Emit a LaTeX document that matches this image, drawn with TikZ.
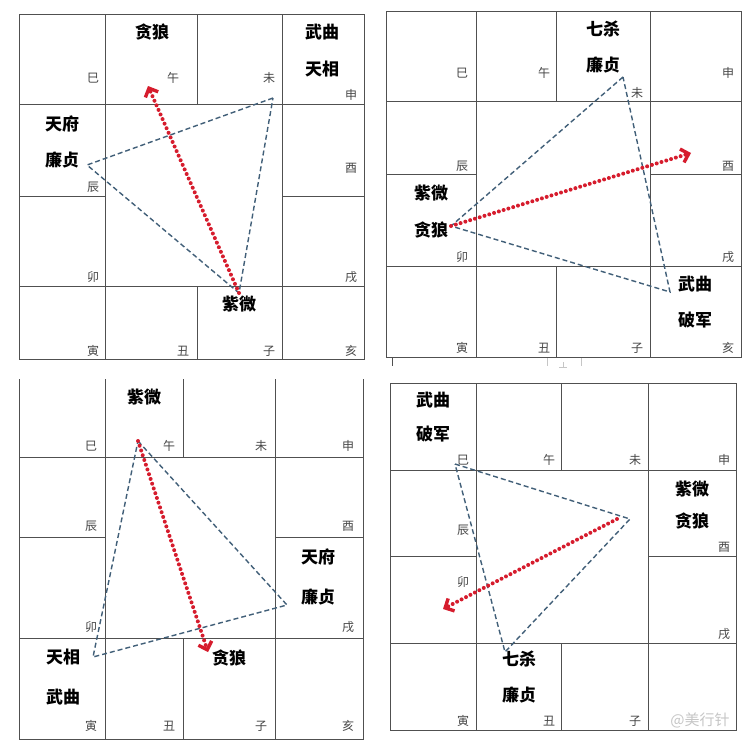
\documentclass[tikz,border=0pt]{standalone}
\usepackage{fontspec}
\newfontfamily\cjk{Noto Sans CJK SC}
\usetikzlibrary{arrows.meta}
\definecolor{gridc}{RGB}{80,80,80}
\definecolor{tric}{RGB}{65,95,120}
\definecolor{arrc}{RGB}{214,28,45}
\definecolor{brc}{RGB}{70,70,70}
\tikzset{
  gridline/.style={draw=gridc, line width=1pt},
  tri/.style={draw=tric, line width=1.4pt, dash pattern=on 5pt off 3pt},
  flow/.style={draw=arrc, line width=4pt, line cap=round, dash pattern=on 0pt off 5pt,
    -{Straight Barb[length=7pt,width=14pt,line width=3.4pt,line cap=butt]}},
  star/.style={font=\cjk\bfseries\fontsize{17}{17}\selectfont, text=black, inner sep=0pt},
  br/.style={font=\cjk\fontsize{12}{12}\selectfont, text=brc, inner sep=0pt},
  wm/.style={font=\cjk\fontsize{15}{15}\selectfont, text=gray!45, inner sep=0pt}
}
\begin{document}
\begin{tikzpicture}[x=1pt,y=-1pt]
\useasboundingbox (0,0) rectangle (754,745);
\fill[white] (0,0) rectangle (754,745);
% ---------- chart 1 ----------
\draw[gridline] (19,14) rectangle (364,359);
\draw[gridline] (19,104) -- (364,104) (19,286) -- (364,286)
  (105,14) -- (105,359) (282,14) -- (282,359)
  (19,196) -- (105,196) (282,196) -- (364,196)
  (197,14) -- (197,104) (197,286) -- (197,359);
\node[star] (a1) at (152,32) {贪狼};
\node[star] (a2) at (322,32) {武曲};
\node[star] (a3) at (322,69) {天相};
\node[star] (a4) at (62,124) {天府};
\node[star] (a5) at (62,160) {廉贞};
\node[star] (a6) at (239,304) {紫微};
\node[br] (ab1) at (93,78) {巳};
\node[br] (ab2) at (173,78) {午};
\node[br] (ab3) at (269,78) {未};
\node[br] (ab4) at (351,95) {申};
\node[br] (ab5) at (93,187) {辰};
\node[br] (ab6) at (351,168) {酉};
\node[br] (ab7) at (93,277) {卯};
\node[br] (ab8) at (351,277) {戌};
\node[br] (ab9) at (93,351) {寅};
\node[br] (ab10) at (183,351) {丑};
\node[br] (ab11) at (269,351) {子};
\node[br] (ab12) at (351,351) {亥};
\coordinate (at1) at (273,98);
\coordinate (at2) at (87,165);
\coordinate (at3) at (239,293);
\coordinate (aarr) at (148,86);
\draw[tri] (at1) -- (at2) -- (at3) -- cycle;
\draw[flow] (at3) -- (aarr);
% ---------- chart 2 ----------
\draw[gridline] (386,11) rectangle (741,357);
\draw[gridline] (386,101) -- (741,101) (386,266) -- (741,266)
  (476,11) -- (476,357) (650,11) -- (650,357)
  (386,174) -- (476,174) (650,174) -- (741,174)
  (556,11) -- (556,101) (556,266) -- (556,357);
\draw[gridc, line width=0.8pt] (392,358) -- (392,366);
\draw[gray!45, line width=0.7pt] (547,358) -- (547,366) (581,358) -- (581,366)
  (563,362) -- (563,367) (559,367) -- (567,367);
\node[star] (b1) at (603,29) {七杀};
\node[star] (b2) at (603,65) {廉贞};
\node[star] (b3) at (431,193) {紫微};
\node[star] (b4) at (431,230) {贪狼};
\node[star] (b5) at (695,284) {武曲};
\node[star] (b6) at (695,320) {破军};
\node[br] (bb1) at (462,73) {巳};
\node[br] (bb2) at (544,73) {午};
\node[br] (bb3) at (637,93) {未};
\node[br] (bb4) at (728,73) {申};
\node[br] (bb5) at (462,166) {辰};
\node[br] (bb6) at (728,166) {酉};
\node[br] (bb7) at (462,257) {卯};
\node[br] (bb8) at (728,257) {戌};
\node[br] (bb9) at (462,348) {寅};
\node[br] (bb10) at (544,348) {丑};
\node[br] (bb11) at (637,348) {子};
\node[br] (bb12) at (728,348) {亥};
\coordinate (bt1) at (623,77);
\coordinate (bt2) at (451,226);
\coordinate (bt3) at (670,292);
\coordinate (barr) at (691,153);
\draw[tri] (bt1) -- (bt2) -- (bt3) -- cycle;
\draw[flow] (bt2) -- (barr);
% ---------- chart 3 ----------
\draw[gridline] (19,379) -- (19,739) -- (363,739) -- (363,379);
\draw[gridline] (19,457) -- (363,457) (19,638) -- (363,638)
  (105,379) -- (105,739) (275,379) -- (275,739)
  (19,537) -- (105,537) (275,537) -- (363,537)
  (183,379) -- (183,457) (183,638) -- (183,739);
\node[star] (c1) at (144,397) {紫微};
\node[star] (c2) at (318,557) {天府};
\node[star] (c3) at (318,597) {廉贞};
\node[star] (c4) at (63,657) {天相};
\node[star] (c5) at (63,697) {武曲};
\node[star] (c6) at (229,658) {贪狼};
\node[br] (cb1) at (91,446) {巳};
\node[br] (cb2) at (169,446) {午};
\node[br] (cb3) at (261,446) {未};
\node[br] (cb4) at (348,446) {申};
\node[br] (cb5) at (91,526) {辰};
\node[br] (cb6) at (348,526) {酉};
\node[br] (cb7) at (91,627) {卯};
\node[br] (cb8) at (348,627) {戌};
\node[br] (cb9) at (91,726) {寅};
\node[br] (cb10) at (169,726) {丑};
\node[br] (cb11) at (261,726) {子};
\node[br] (cb12) at (348,726) {亥};
\coordinate (ct1) at (138,441);
\coordinate (ct2) at (287,605);
\coordinate (ct3) at (93,657);
\coordinate (carr) at (208,652);
\draw[tri] (ct1) -- (ct2) -- (ct3) -- cycle;
\draw[flow] (ct1) -- (carr);
% ---------- chart 4 ----------
\draw[gridline] (390,383) rectangle (736,730);
\draw[gridline] (390,470) -- (736,470) (390,643) -- (736,643)
  (476,383) -- (476,730) (648,383) -- (648,730)
  (390,556) -- (476,556) (648,556) -- (736,556)
  (561,383) -- (561,470) (561,643) -- (561,730);
\node[star] (d1) at (433,400) {武曲};
\node[star] (d2) at (433,434) {破军};
\node[star] (d3) at (692,489) {紫微};
\node[star] (d4) at (692,521) {贪狼};
\node[star] (d5) at (519,659) {七杀};
\node[star] (d6) at (519,695) {廉贞};
\node[br] (db1) at (463,460) {巳};
\node[br] (db2) at (549,460) {午};
\node[br] (db3) at (635,460) {未};
\node[br] (db4) at (724,460) {申};
\node[br] (db5) at (463,530) {辰};
\node[br] (db6) at (724,547) {酉};
\node[br] (db7) at (463,582) {卯};
\node[br] (db8) at (724,634) {戌};
\node[br] (db9) at (463,721) {寅};
\node[br] (db10) at (549,721) {丑};
\node[br] (db11) at (635,721) {子};
\coordinate (dt1) at (455,464);
\coordinate (dt2) at (630,519);
\coordinate (dt3) at (505,652);
\coordinate (dstart) at (617,519);
\coordinate (darr) at (443,609);
\draw[tri] (dt1) -- (dt2) -- (dt3) -- cycle;
\draw[flow] (dstart) -- (darr);
\node[wm] (wmark) at (700,720) {@美行针};
\end{tikzpicture}
\end{document}
